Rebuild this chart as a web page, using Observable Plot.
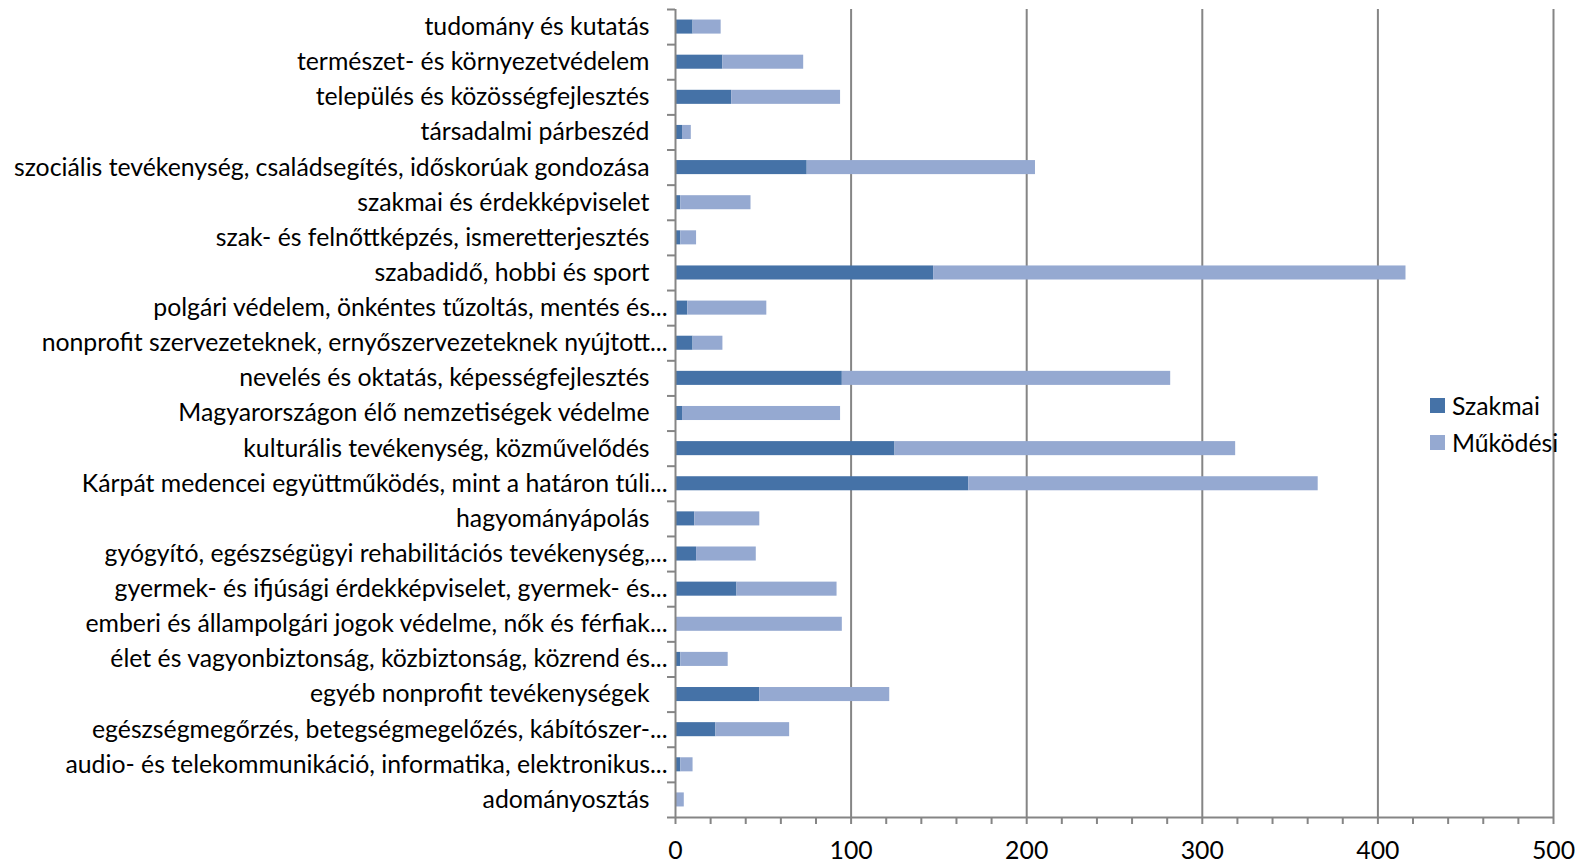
<!DOCTYPE html>
<html>
<head>
<meta charset="utf-8">
<script src="https://cdn.jsdelivr.net/npm/d3@7"></script>
<script src="https://cdn.jsdelivr.net/npm/@observablehq/plot@0.6"></script>
<style>
  html, body { margin: 0; padding: 0; background: #fff; }
  #wrap { position: relative; width: 1583px; height: 861px; font-family: Lato, sans-serif; }
  #wrap svg { display: block; }
  .legend { position: absolute; left: 1430px; top: 387px; font: 24.8px Lato, sans-serif; color: #000; }
  .legend .item { display: flex; align-items: center; height: 37px; }
  .legend .sw { width: 15px; height: 15px; margin-right: 7px; }
</style>
</head>
<body>
<div id="wrap"></div>
<script>
const categories = [
  "tudomány és kutatás",
  "természet- és környezetvédelem",
  "település és közösségfejlesztés",
  "társadalmi párbeszéd",
  "szociális tevékenység, családsegítés, időskorúak gondozása",
  "szakmai és érdekképviselet",
  "szak- és felnőttképzés, ismeretterjesztés",
  "szabadidő, hobbi és sport",
  "polgári védelem, önkéntes tűzoltás, mentés és...",
  "nonprofit szervezeteknek, ernyőszervezeteknek nyújtott...",
  "nevelés és oktatás, képességfejlesztés",
  "Magyarországon élő nemzetiségek védelme",
  "kulturális tevékenység, közművelődés",
  "Kárpát medencei együttműködés, mint a határon túli...",
  "hagyományápolás",
  "gyógyító, egészségügyi rehabilitációs tevékenység,...",
  "gyermek- és ifjúsági érdekképviselet, gyermek- és...",
  "emberi és állampolgári jogok védelme, nők és férfiak...",
  "élet és vagyonbiztonság, közbiztonság, közrend és...",
  "egyéb nonprofit tevékenységek",
  "egészségmegőrzés, betegségmegelőzés, kábítószer-...",
  "audio- és telekommunikáció, informatika, elektronikus...",
  "adományosztás"
];
const szakmai  = [10, 27, 32, 4, 75, 3, 3, 147, 7, 10, 95, 4, 125, 167, 11, 12, 35, 0, 3, 48, 23, 3, 0];
const mukodesi = [16, 46, 62, 5, 130, 40, 9, 269, 45, 17, 187, 90, 194, 199, 37, 34, 57, 95, 27, 74, 42, 7, 5];
const seriesNames = ["Szakmai", "Működési"];
const seriesColors = ["#4572A7", "#95A9D1"];
const xMajorTicks = [0, 100, 200, 300, 400, 500];
const xMinorTicks = d3.range(0, 501, 20);

const W = 1583, H = 861, mt = 9, mb = 44, ml = 675, mr = 30;
const step = (H - mt - mb) / categories.length;
const axisColor = "#858585";
const fs = 24.8;

const data = categories.flatMap((c, i) => [
  {cat: c, series: seriesNames[0], value: szakmai[i]},
  {cat: c, series: seriesNames[1], value: mukodesi[i]}
]);
const truncated = c => c.endsWith("...");

const plot = Plot.plot({
  width: W, height: H,
  marginTop: mt, marginBottom: mb, marginLeft: ml, marginRight: mr,
  style: {fontFamily: "Lato, sans-serif", fontSize: fs + "px", color: "#000", background: "#fff", overflow: "visible"},
  x: {domain: [0, 500]},
  y: {domain: categories, paddingInner: 0.6, paddingOuter: 0.3, round: false, axis: null},
  color: {domain: seriesNames, range: seriesColors},
  marks: [
    Plot.ruleX(xMajorTicks.slice(1), {stroke: axisColor, strokeWidth: 2}),
    Plot.barX(data, {x: "value", y: "cat", fill: "series"}),
    Plot.ruleX([0], {stroke: axisColor, strokeWidth: 2}),
    Plot.ruleY(categories, {y: d => d, x1: 0, x2: 0, dy: -step / 2, insetLeft: -8, stroke: axisColor, strokeWidth: 2}),
    Plot.ruleY([categories[categories.length - 1]], {y: d => d, x1: 0, x2: 500, dy: step / 2, insetLeft: -8, stroke: axisColor, strokeWidth: 2}),
    Plot.axisX({
      ticks: xMinorTicks, tickSize: 7, tickPadding: 17,
      tickFormat: d => xMajorTicks.includes(d) ? String(d) : "",
      stroke: axisColor, strokeWidth: 2, fill: "#000", fontSize: fs, label: null
    }),
    Plot.text(categories.filter(c => !truncated(c)), {y: d => d, frameAnchor: "left", textAnchor: "end", dx: -26, fontSize: fs, fill: "#000"}),
    Plot.text(categories.filter(truncated), {y: d => d, frameAnchor: "left", textAnchor: "end", dx: -8, fontSize: fs, fill: "#000"})
  ]
});

const wrap = document.getElementById("wrap");
wrap.appendChild(plot);

const legend = document.createElement("div");
legend.className = "legend";
seriesNames.forEach((s, i) => {
  const item = document.createElement("div");
  item.className = "item";
  const sw = document.createElement("span");
  sw.className = "sw";
  sw.style.background = seriesColors[i];
  const t = document.createElement("span");
  t.textContent = s;
  item.appendChild(sw);
  item.appendChild(t);
  legend.appendChild(item);
});
wrap.appendChild(legend);
</script>
</body>
</html>
